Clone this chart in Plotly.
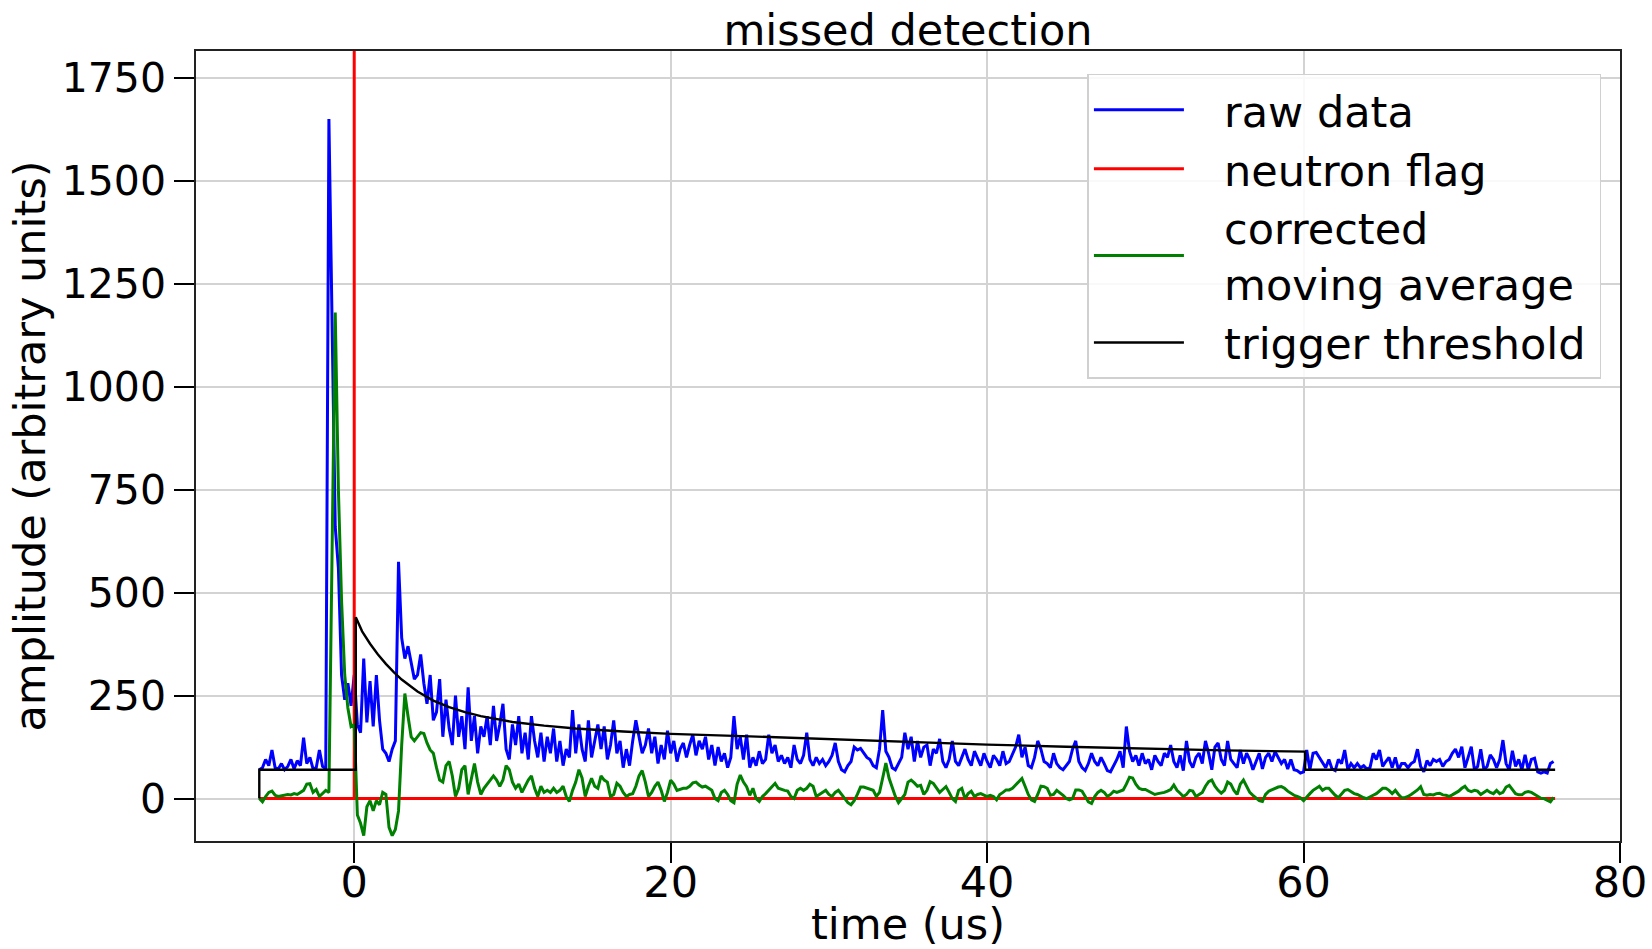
import numpy as np
import plotly.graph_objects as go

DT = 0.2

# ---- raw data (blue), segments of (start time, values every DT) ----
raw_segments = [
    (-6.0, [70, 75, 95, 80, 118, 75, 72, 85, 70, 78, 95, 72, 92, 80, 148, 85, 100, 72, 75, 118, 78, 72]),
    (-1.6, [1650, 1180, 660, 560, 300, 240, 280, 225, 300]),
    (0.2, [180, 160, 340, 185, 285, 175, 300, 190, 120, 110, 90, 120, 140, 575, 390, 340, 370, 330, 290]),
    (4.0, [300, 350, 280, 230, 300, 190, 210, 290, 150, 240, 170, 130, 250, 150, 200, 120, 270, 140, 200, 110,
           175, 150, 200, 130, 225, 140, 180, 230, 120, 95, 180, 130, 200, 110, 160, 95, 200, 140, 100, 160,
           90, 150, 110, 170, 90, 140, 80, 120, 100, 215, 110, 180]),
    (14.4, [120, 90, 190, 100, 140, 180, 120, 175, 95, 130, 190, 110, 140, 75, 120, 80, 140, 190, 150, 110,
            130, 170, 110, 150, 85, 130, 95, 165, 110, 140, 90, 120, 135, 100, 130, 155, 105, 140, 120, 150,
            95, 130, 80, 125, 90, 110, 75, 100, 200, 120, 150, 95]),
    (24.8, [155, 75, 100, 80, 115, 85, 95, 155, 110, 130, 90, 105, 85, 100, 75, 130, 95, 85, 105, 160,
            95, 80, 100, 85, 95, 80, 90, 105, 135, 90, 70, 65, 80, 90, 125, 118, 122, 110, 100, 95,
            80, 75, 120, 215, 115, 100, 75, 70, 85, 100, 160, 120]),
    (35.2, [150, 90, 140, 100, 125, 130, 80, 120, 110, 145, 90, 75, 95, 140, 90, 80, 100, 120, 95, 80,
            115, 95, 80, 110, 90, 75, 105, 95, 80, 115, 85, 90, 110, 125, 155, 100, 125, 80, 75, 100,
            140, 120, 90, 85, 75, 110, 85, 75, 70, 80, 90, 120]),
    (45.6, [140, 90, 75, 68, 85, 110, 90, 80, 100, 85, 68, 65, 80, 95, 115, 75, 175, 115, 90, 105,
            80, 110, 85, 95, 70, 105, 90, 80, 110, 100, 130, 90, 75, 105, 68, 140, 90, 75, 100, 110,
            85, 140, 110, 70, 125, 135, 95, 80, 140, 95, 85, 75]),
    (56.0, [118, 85, 110, 95, 70, 90, 110, 72, 100, 110, 90, 114, 100, 85, 95, 72, 95, 70, 68, 62,
            65, 118, 70, 110, 112, 100, 90, 75, 95, 72, 68, 95, 85, 118, 70, 85, 75, 85, 75, 80,
            72, 75, 110, 95, 118, 78, 90, 100, 75, 100, 70, 85]),
    (66.4, [85, 75, 85, 90, 120, 78, 65, 92, 80, 95, 90, 95, 78, 90, 95, 110, 120, 100, 126, 75,
            100, 126, 70, 78, 120, 70, 78, 106, 95, 75, 95, 142, 85, 70, 116, 78, 95, 70, 106, 70,
            95, 98, 65, 62, 65, 62, 85, 90]),
]

# ---- corrected moving average (green) ----
avg_segments = [
    (-6.0, [0, -8, 5, 15, 18, 8, 5, 7, 9, 10, 9, 12, 10, 14, 20, 35, 36, 15, 22, 5, 12, 20]),
    (-1.6, [15, 650, 1180, 750, 480, 300, 220, 175, 180]),
    (0.2, [-40, -60, -90, -20, -5, -30, -5, -15, 15, 10, -70, -90, -75, -30, 130, 255, 200, 150, 140]),
    (4.0, [150, 160, 158, 135, 118, 110, 75, 45, 40, 80, 90, 55, 5, 25, 70, 80, 10, 50, 85, 40,
           10, 25, 35, 45, 55, 45, 30, 45, 80, 70, 40, 25, 35, 15, 30, 45, 55, 25, 5, 30,
           15, 20, 15, 25, 15, 20, 30, 5, -7, 20, 40, 70]),
    (14.4, [50, 5, 30, 49, 30, 25, 55, 45, 40, 5, 10, 37, 30, 15, 5, 10, 12, 30, 55, 68,
            40, 5, 15, 30, 40, 20, -7, 15, 45, 35, 20, 22, 25, 25, 30, 38, 40, 33, 28, 30,
            25, 20, 0, -5, 15, 20, 10, -5, -10, 35, 57, 40]),
    (24.8, [29, 8, 25, 0, -7, 5, 12, 20, 30, 37, 25, 22, 20, 18, 5, 0, 20, 25, 20, 25,
            35, 30, 5, 10, 15, 20, 10, 5, 15, 20, 10, 0, -10, -15, -5, 10, 28, 28, 25, 22,
            20, 5, 15, 50, 86, 50, 25, 5, -10, 0, 10, 40]),
    (35.2, [45, 38, 30, 32, 10, 20, 41, 37, 25, 15, 22, 29, 15, 0, -7, 20, 25, 0, 12, 18,
            5, 10, 12, 8, 5, 8, 5, -3, 10, 15, 21, 21, 25, 33, 41, 49, 30, 10, -3, -7,
            10, 30, 29, 25, 8, 10, 20, 15, 8, 0, -3, 0]),
    (45.6, [21, 21, 18, 5, -8, -12, 5, 15, 20, 15, 5, 10, 18, 15, 18, 21, 35, 52, 50, 35,
            25, 22, 22, 18, 13, 10, 12, 13, 15, 18, 22, 33, 20, 13, 5, 10, 20, 18, 5, 10,
            15, 30, 41, 45, 30, 20, 13, 20, 40, 35, 20, 10]),
    (56.0, [35, 45, 30, 15, 8, 2, -5, -7, 10, 18, 22, 25, 28, 29, 25, 18, 12, 8, 5, 2,
            -5, 5, 12, 20, 25, 30, 20, 25, 25, 15, 8, 2, 10, 20, 22, 17, 12, 10, 5, 2,
            0, 5, 8, 12, 18, 25, 25, 20, 12, 20, 10, 2]),
    (66.4, [2, 5, 10, 15, 21, 29, 10, 8, 10, 9, 12, 13, 9, 8, 5, 9, 13, 18, 25, 30,
            20, 17, 20, 18, 10, 15, 20, 15, 12, 20, 12, 15, 28, 32, 21, 12, 9, 9, 15, 17,
            15, 10, 5, 1, 0, -5, -8, 3]),
]

# ---- trigger threshold (black) ----
thr_t = [-6.0, -6.0, 0.1, 0.1, 0.5, 1.0, 1.5, 2.0, 2.5, 3.0, 4.0, 5.0, 6.0, 7.0, 8.0, 10.0, 12.0, 14.0,
         17.0, 20.0, 25.0, 30.0, 35.0, 40.0, 45.0, 50.0, 55.0, 60.1, 60.1, 75.9]
thr_v = [0, 70, 70, 440, 406, 376, 350, 327, 307, 289, 260, 238, 222, 210, 200, 186, 177, 170,
         163, 157, 151, 144, 137, 131, 126, 121, 117, 114, 70, 70]

# ---- neutron flag (red) ----
flag_t = [-6.0, 0.0, 0.0, 0.0, 75.9]
flag_v = [0, 0, 2000, 0, 0]

x_ticks = [0, 20, 40, 60, 80]
x_ticktext = ["0", "20", "40", "60", "80"]
y_ticks = [0, 250, 500, 750, 1000, 1250, 1500, 1750]
y_ticktext = ["0", "250", "500", "750", "1000", "1250", "1500", "1750"]

legend_names = ["raw data", "neutron flag", "corrected<br>moving average", "trigger threshold"]


def build(segments):
    ts, vs = [], []
    for start, vals in segments:
        for i, v in enumerate(vals):
            ts.append(round(start + DT * i, 4))
            vs.append(v)
    return ts, vs


def pad(name):
    # gap between legend line sample and legend text (non-collapsing spaces)
    gap = "\u2002\u00a0"
    return "<br>".join(gap + part for part in name.split("<br>"))


raw_t, raw_v = build(raw_segments)
avg_t, avg_v = build(avg_segments)

FONT = "DejaVu Sans"

fig = go.Figure()
fig.add_trace(go.Scatter(x=raw_t, y=raw_v, mode="lines", name=pad(legend_names[0]),
                         line=dict(color="#0000ff", width=3)))
fig.add_trace(go.Scatter(x=flag_t, y=flag_v, mode="lines", name=pad(legend_names[1]),
                         line=dict(color="#ff0000", width=3)))
fig.add_trace(go.Scatter(x=avg_t, y=avg_v, mode="lines", name=pad(legend_names[2]),
                         line=dict(color="#008000", width=3)))
fig.add_trace(go.Scatter(x=thr_t, y=thr_v, mode="lines", name=pad(legend_names[3]) + "\u2009",
                         line=dict(color="#000000", width=2.4)))

fig.update_layout(
    template="none",
    width=1652, height=949,
    margin=dict(l=196, r=32, t=51, b=108, autoexpand=False),
    paper_bgcolor="white", plot_bgcolor="white",
    font=dict(family=FONT, size=43, color="black"),
    title=dict(text="missed detection", x=0.5, xref="paper", xanchor="center",
               y=1 - 30 / 949, yref="container", yanchor="middle",
               font=dict(family=FONT, size=43, color="black")),
    legend=dict(x=0.626, y=0.971, xanchor="left", yanchor="top",
                bgcolor="rgba(255,255,255,0.85)", bordercolor="#d0d0d0", borderwidth=1.5,
                font=dict(family=FONT, size=43, color="black"), itemwidth=90,
                tracegroupgap=0),
    showlegend=True,
)
fig.update_xaxes(range=[-10, 80], tickmode="array", tickvals=x_ticks, ticktext=x_ticktext,
                 ticks="outside", ticklen=20, tickwidth=2, tickcolor="black",
                 ticklabelstandoff=-17, automargin=False,
                 showgrid=True, gridcolor="#d3d3d3", gridwidth=1.5,
                 showline=True, mirror=True, linecolor="#222222", linewidth=1.5,
                 zeroline=False, tickfont=dict(family=FONT, size=43),
                 title=dict(text="time (us)", font=dict(family=FONT, size=43), standoff=8))
fig.update_yaxes(range=[-103, 1815], tickmode="array", tickvals=y_ticks, ticktext=y_ticktext,
                 ticks="outside", ticklen=20, tickwidth=2, tickcolor="black", automargin=False,
                 showgrid=True, gridcolor="#d3d3d3", gridwidth=1.5,
                 showline=True, mirror=True, linecolor="#222222", linewidth=1.5,
                 zeroline=False, tickfont=dict(family=FONT, size=41),
                 title=dict(text="amplitude (arbitrary units)", font=dict(family=FONT, size=43), standoff=3))

fig.write_html("out.html")
